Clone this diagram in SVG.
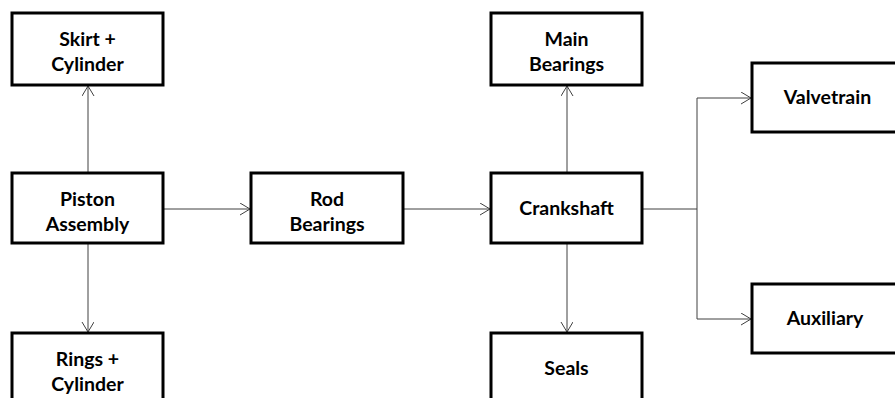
<svg xmlns="http://www.w3.org/2000/svg" width="895" height="398" viewBox="0 0 895 398">
<defs>
<marker id="arr" markerWidth="12" markerHeight="14" refX="10" refY="6" orient="auto" markerUnits="userSpaceOnUse">
<path d="M0,0 L10,6 L0,12" fill="none" stroke="#404040" stroke-width="1"/>
</marker>
<style>
.box{fill:#fff;stroke:#000;stroke-width:3}
.lbl{font-family:Lato,"Open Sans","Liberation Sans",sans-serif;font-weight:bold;font-size:19.5px;fill:#000;text-anchor:middle}
.con{fill:none;stroke:#404040;stroke-width:1}
</style>
</defs>
<rect width="895" height="398" fill="#fff"/>
<g id="connectors">
<line class="con" x1="88" y1="173" x2="88" y2="86" marker-end="url(#arr)"/>
<line class="con" x1="88" y1="243" x2="88" y2="332" marker-end="url(#arr)"/>
<line class="con" x1="163" y1="209" x2="250" y2="209" marker-end="url(#arr)"/>
<line class="con" x1="403" y1="209" x2="490" y2="209" marker-end="url(#arr)"/>
<line class="con" x1="567" y1="173" x2="567" y2="86" marker-end="url(#arr)"/>
<line class="con" x1="567" y1="243" x2="567" y2="332" marker-end="url(#arr)"/>
<path class="con" d="M642,209 H697 V98 H751" marker-end="url(#arr)"/>
<path class="con" d="M697,209 V319 H751" marker-end="url(#arr)"/>
</g>
<g id="skirt">
<rect class="box" x="12" y="13" width="151" height="72"/>
<text class="lbl" x="87.5" y="46">Skirt +</text>
<text class="lbl" x="87.5" y="71">Cylinder</text>
</g>
<g id="piston">
<rect class="box" x="12" y="173" width="151" height="70"/>
<text class="lbl" x="87.5" y="206">Piston</text>
<text class="lbl" x="87.5" y="231">Assembly</text>
</g>
<g id="rings">
<rect class="box" x="12" y="333" width="151" height="72"/>
<text class="lbl" x="87.5" y="366">Rings +</text>
<text class="lbl" x="87.5" y="391">Cylinder</text>
</g>
<g id="rod">
<rect class="box" x="251" y="173" width="152" height="70"/>
<text class="lbl" x="327" y="206">Rod</text>
<text class="lbl" x="327" y="231">Bearings</text>
</g>
<g id="main">
<rect class="box" x="491" y="13" width="151" height="72"/>
<text class="lbl" x="566.5" y="46">Main</text>
<text class="lbl" x="566.5" y="71">Bearings</text>
</g>
<g id="crankshaft">
<rect class="box" x="491" y="173" width="151" height="70"/>
<text class="lbl" x="566.5" y="215">Crankshaft</text>
</g>
<g id="seals">
<rect class="box" x="491" y="333" width="151" height="72"/>
<text class="lbl" x="566.5" y="375">Seals</text>
</g>
<g id="valvetrain">
<rect class="box" x="752" y="63" width="151" height="69"/>
<text class="lbl" x="827.5" y="104">Valvetrain</text>
</g>
<g id="auxiliary">
<rect class="box" x="752" y="284" width="151" height="69"/>
<text class="lbl" x="825" y="325">Auxiliary</text>
</g>
</svg>
